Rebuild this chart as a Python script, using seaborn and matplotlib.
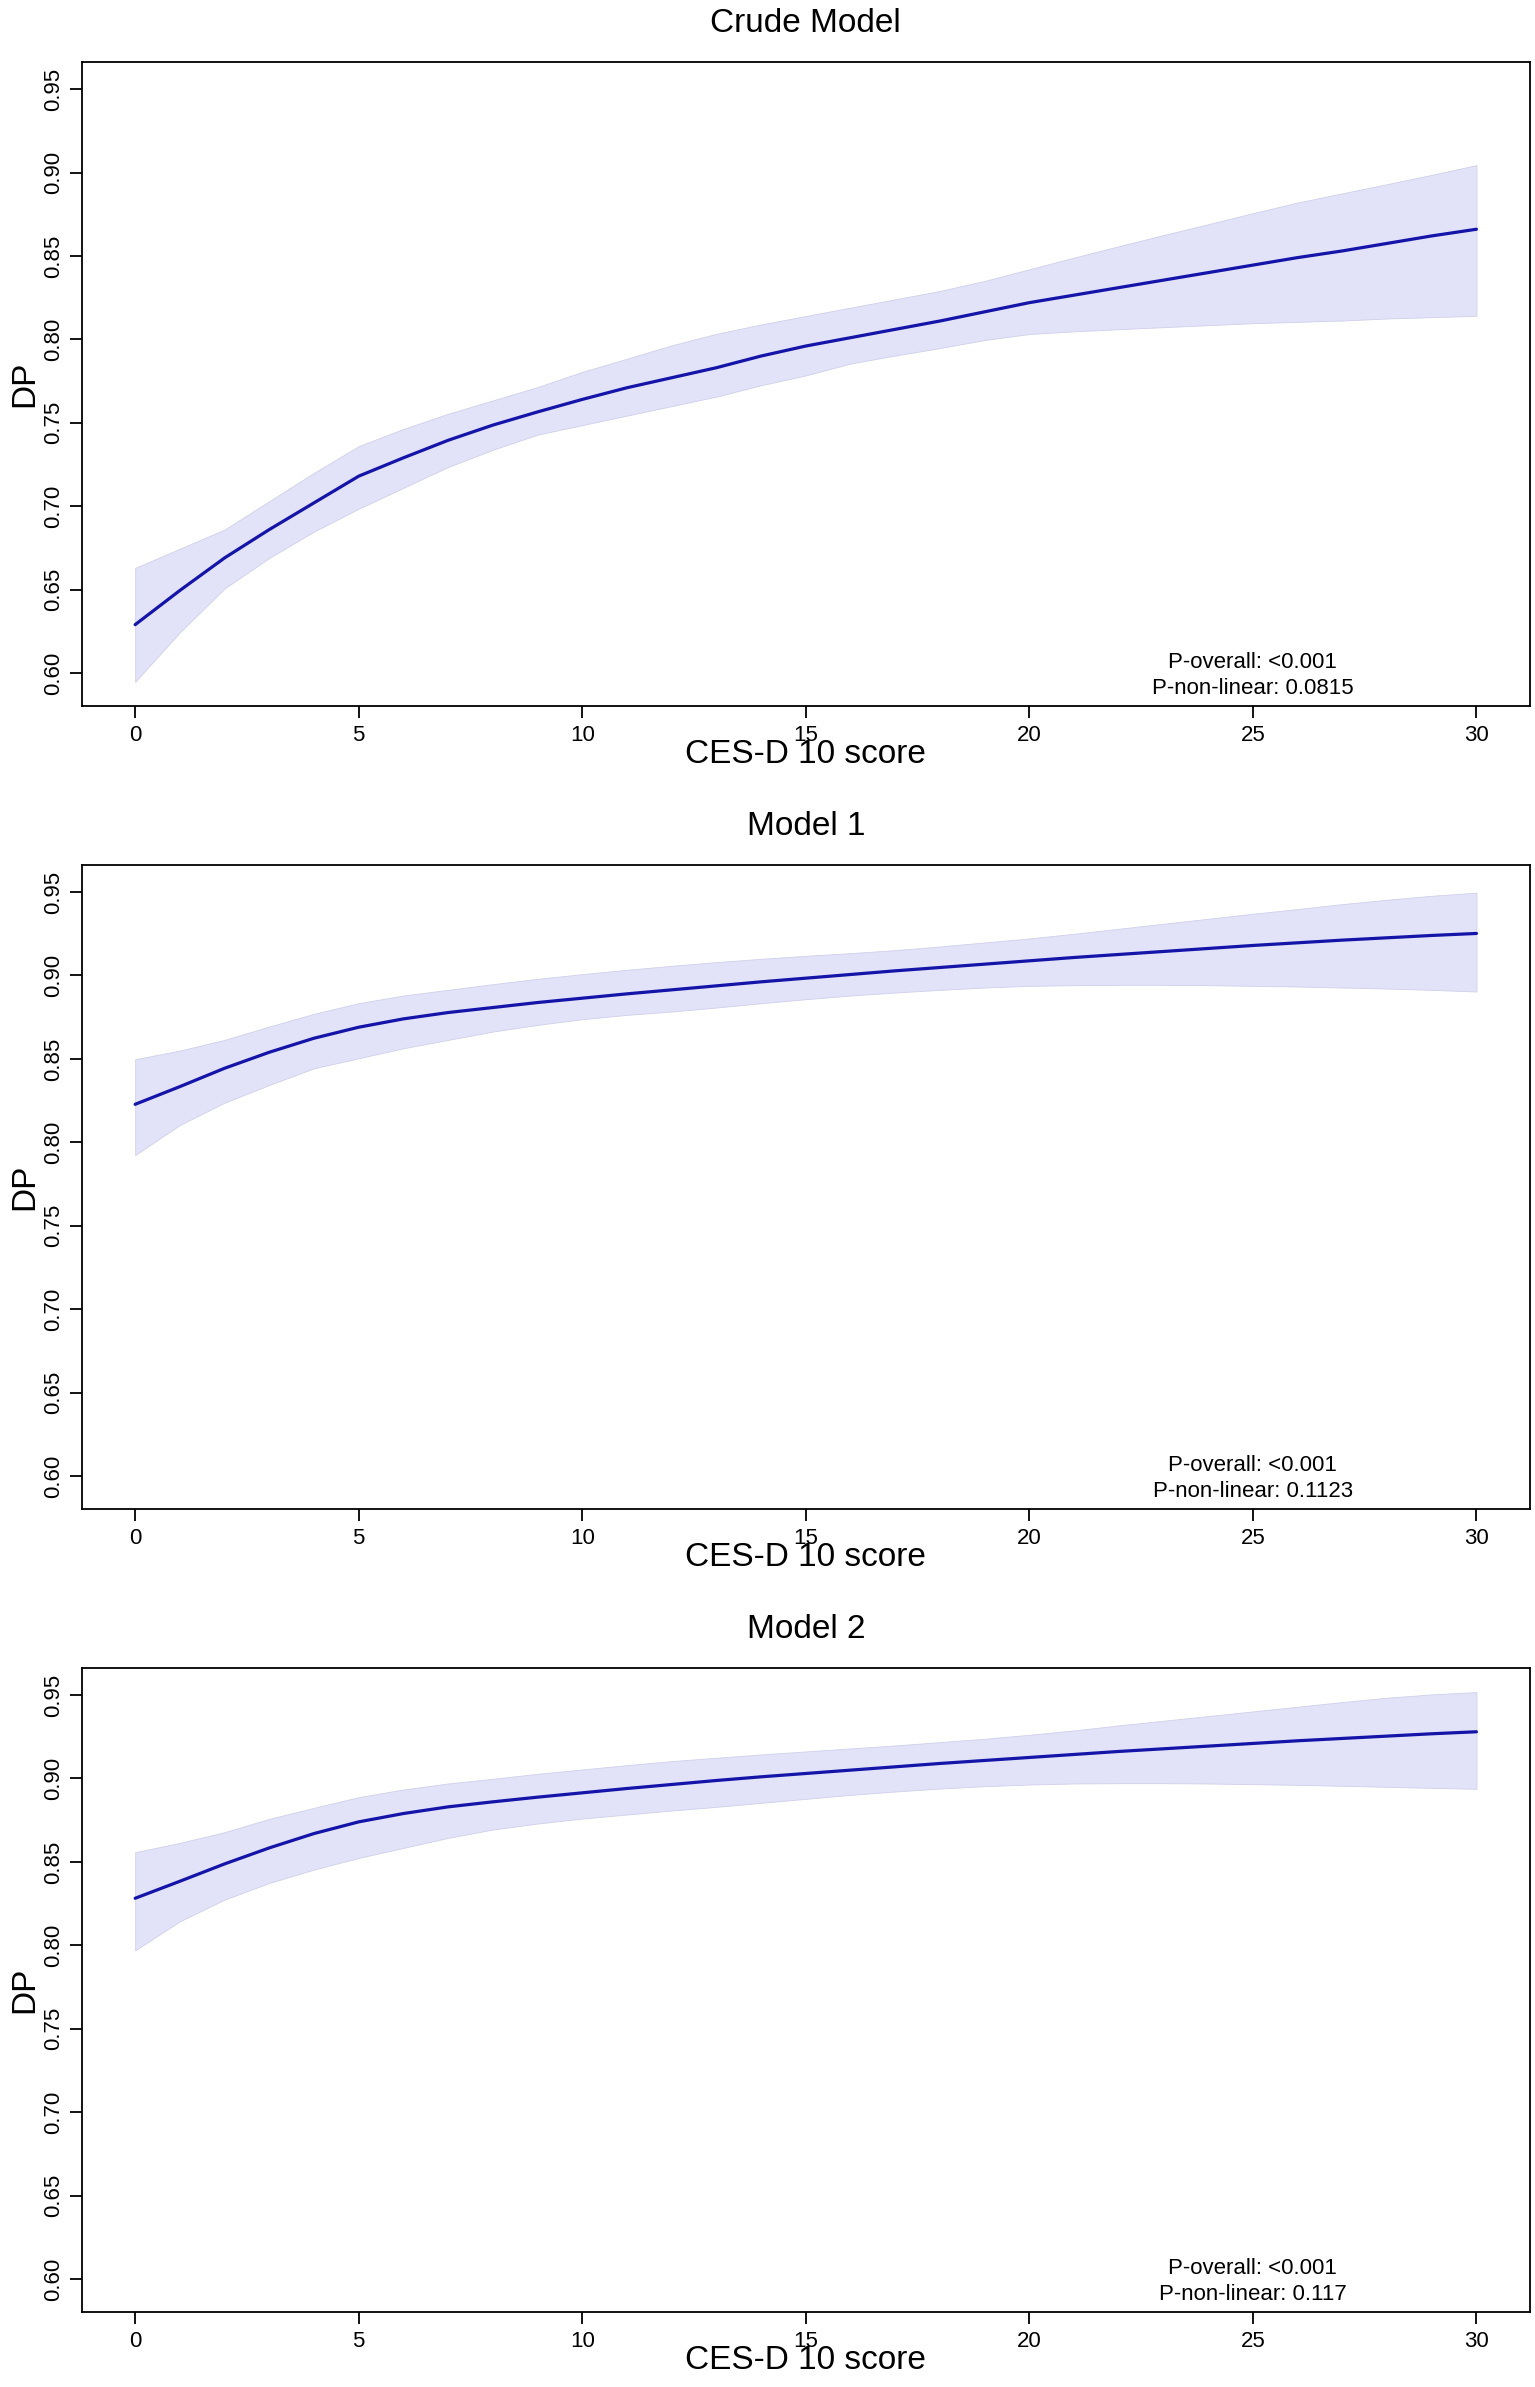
import numpy as np
import pandas as pd
import matplotlib
matplotlib.use("Agg")
import matplotlib.pyplot as plt
import matplotlib.transforms as mtransforms
import seaborn as sns

# CES-D 10 score grid
score = list(range(31))

# Crude model
crude_fit = [0.629, 0.6495, 0.669, 0.686, 0.702, 0.718, 0.729, 0.7395, 0.7486, 0.7565,
             0.764, 0.771, 0.777, 0.783, 0.790, 0.796, 0.801, 0.806, 0.811, 0.8165,
             0.822, 0.8265, 0.831, 0.8355, 0.840, 0.8445, 0.849, 0.853, 0.8575, 0.862, 0.866]
crude_upper = [0.663, 0.6745, 0.686, 0.703, 0.720, 0.736, 0.7463, 0.7554, 0.7634, 0.7714,
               0.7805, 0.7884, 0.7964, 0.8033, 0.8089, 0.814, 0.819, 0.824, 0.829, 0.835,
               0.842, 0.849, 0.8558, 0.8625, 0.869, 0.8756, 0.882, 0.8875, 0.893, 0.8986, 0.9044]
crude_lower = [0.5948, 0.6244, 0.6507, 0.669, 0.6848, 0.6985, 0.711, 0.7235, 0.7338, 0.7429,
               0.7486, 0.7543, 0.760, 0.7657, 0.7725, 0.7784, 0.7855, 0.7903, 0.7948, 0.7996,
               0.8032, 0.8048, 0.8061, 0.8073, 0.8085, 0.8097, 0.8105, 0.8113, 0.8125, 0.8133, 0.8141]

# Model 1
m1_fit = [0.8228, 0.8334, 0.8444, 0.854, 0.8624, 0.869, 0.874, 0.8778, 0.8808, 0.8838,
          0.8864, 0.889, 0.8914, 0.8938, 0.8962, 0.8984, 0.9006, 0.9028, 0.9048, 0.9068,
          0.9088, 0.9108, 0.9126, 0.9144, 0.9162, 0.918, 0.9196, 0.9212, 0.9226, 0.924, 0.9252]
m1_upper = [0.8498, 0.855, 0.8614, 0.8694, 0.877, 0.8834, 0.888, 0.8914, 0.8948, 0.898,
            0.9008, 0.9034, 0.9058, 0.908, 0.910, 0.9118, 0.9134, 0.9152, 0.9174, 0.9198,
            0.9222, 0.925, 0.928, 0.931, 0.934, 0.937, 0.9398, 0.9428, 0.9454, 0.9478, 0.9496]
m1_lower = [0.7924, 0.8104, 0.8238, 0.8344, 0.8444, 0.8504, 0.8564, 0.8614, 0.8664, 0.8704,
            0.8738, 0.8764, 0.8784, 0.8808, 0.8834, 0.8858, 0.888, 0.8898, 0.8914, 0.8928,
            0.8938, 0.8942, 0.8944, 0.8944, 0.8942, 0.8938, 0.8934, 0.8928, 0.8922, 0.8914, 0.8904]

# Model 2
m2_fit = [0.8282, 0.8384, 0.8488, 0.8584, 0.867, 0.874, 0.879, 0.883, 0.886, 0.8888,
          0.8914, 0.894, 0.8964, 0.8988, 0.901, 0.903, 0.905, 0.907, 0.909, 0.9108,
          0.9126, 0.9144, 0.9162, 0.9178, 0.9194, 0.921, 0.9226, 0.924, 0.9254, 0.9268, 0.928]
m2_upper = [0.8558, 0.8614, 0.8678, 0.8758, 0.8824, 0.8888, 0.8934, 0.897, 0.8998, 0.9028,
            0.9054, 0.908, 0.9104, 0.9124, 0.9144, 0.9162, 0.918, 0.9198, 0.9218, 0.9238,
            0.9262, 0.9288, 0.9318, 0.9346, 0.9374, 0.9402, 0.943, 0.9458, 0.9484, 0.9504, 0.9518]
m2_lower = [0.797, 0.8144, 0.8274, 0.8374, 0.8454, 0.8524, 0.8584, 0.8644, 0.8694, 0.873,
            0.876, 0.8784, 0.8808, 0.883, 0.8854, 0.8878, 0.8902, 0.8922, 0.894, 0.8954,
            0.8964, 0.897, 0.8972, 0.8972, 0.897, 0.8966, 0.8962, 0.8956, 0.895, 0.8944, 0.8938]

titles = ["Crude Model", "Model 1", "Model 2"]
p_overall = ["<0.001", "<0.001", "<0.001"]
p_nonlinear = ["0.0815", "0.1123", "0.117"]
x_ticks = [0, 5, 10, 15, 20, 25, 30]
y_ticks = [0.60, 0.65, 0.70, 0.75, 0.80, 0.85, 0.90, 0.95]

panels = [
    (crude_fit, crude_lower, crude_upper),
    (m1_fit, m1_lower, m1_upper),
    (m2_fit, m2_lower, m2_upper),
]

sns.set_theme(style="white")
plt.rcParams["font.family"] = ["Liberation Sans", "DejaVu Sans"]

LINE_COLOR = "#1414a8"
FILL_COLOR = "#e2e2f9"

fig = plt.figure(figsize=(15.35, 23.87), dpi=100)
bottoms = [0.7042, 0.3678, 0.0314]
ax_h = 0.2698

for i, (fit, lo, hi) in enumerate(panels):
    ax = fig.add_axes([0.0531, bottoms[i], 0.9437, ax_h])
    df = pd.DataFrame({"score": score, "fit": fit, "lo": lo, "hi": hi})

    # confidence band, then the fitted curve on top
    ax.fill_between(df["score"], df["lo"], df["hi"], color=FILL_COLOR,
                    edgecolor="#cfcfea", linewidth=0.6, zorder=1)
    sns.lineplot(data=df, x="score", y="fit", ax=ax, color=LINE_COLOR,
                 linewidth=2.3, zorder=3)

    ax.set_xlim(-1.2, 31.2)
    ax.set_ylim(0.5802, 0.9662)
    ax.set_xticks(x_ticks)
    ax.set_xticklabels([str(t) for t in x_ticks])
    ax.set_yticks(y_ticks)
    ax.set_yticklabels([f"{t:.2f}" for t in y_ticks])

    for s in ax.spines.values():
        s.set_visible(True)
        s.set_color("black")
        s.set_linewidth(1.3)

    ax.tick_params(axis="both", direction="out", length=8.5, width=1.3,
                   color="black", labelsize=16, labelcolor="black",
                   bottom=True, left=True)
    ax.tick_params(axis="x", pad=5)
    ax.tick_params(axis="y", pad=4)
    for lab in ax.get_yticklabels():
        lab.set_rotation(90)
        lab.set_va("center")
        lab.set_ha("right")

    ax.set_title(titles[i], fontsize=24, pad=21.5, color="black")
    ax.set_xlabel("CES-D 10 score", fontsize=24, color="black")
    ax.set_ylabel("DP", fontsize=24, color="black")
    ax.xaxis.set_label_coords(0.5, -33 / 644)
    ax.yaxis.set_label_coords(-0.0286, 0.5)

    trans = mtransforms.blended_transform_factory(ax.transData, ax.transAxes)
    ax.text(25, 38 / 644, f"P-overall: {p_overall[i]}", transform=trans,
            ha="center", va="baseline", fontsize=16, color="black")
    ax.text(25, 12 / 644, f"P-non-linear: {p_nonlinear[i]}", transform=trans,
            ha="center", va="baseline", fontsize=16, color="black")

fig.savefig("out.png", dpi=100)
plt.close(fig)
